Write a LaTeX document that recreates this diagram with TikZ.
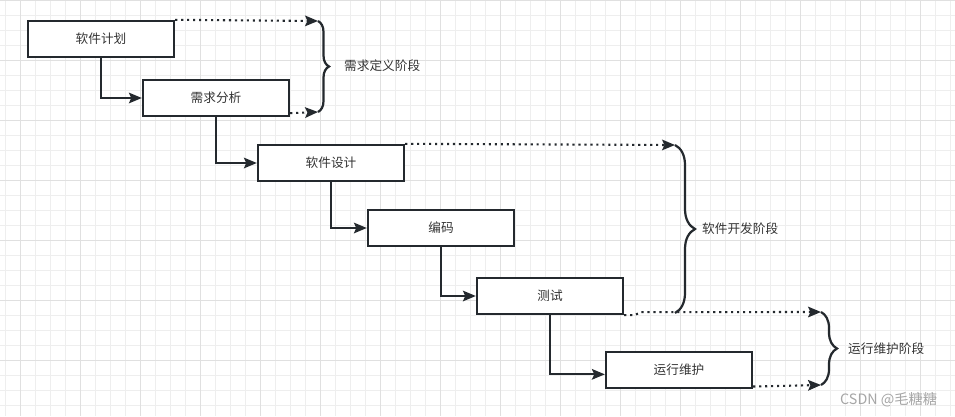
\documentclass[tikz,border=0pt]{standalone}
\usepackage{fontspec}
\setmainfont{Noto Sans CJK SC}
\usetikzlibrary{arrows.meta,decorations.pathreplacing}
\definecolor{ink}{RGB}{36,41,46}
\definecolor{txt}{RGB}{51,51,51}
\definecolor{gminor}{RGB}{238,238,238}
\definecolor{gmajor}{RGB}{224,224,224}

\begin{document}
\begin{tikzpicture}
[x=0.03cm,y=-0.03cm,
box/.style={draw=ink,line width=2pt,fill=white,minimum width=4.38cm,minimum height=1.08cm,inner sep=0pt,text=txt,font=\fontsize{10.8pt}{13pt}\selectfont},
flow/.style={draw=ink,line width=1.8pt,-{Stealth[length=11pt,width=9pt,inset=2pt]}},
dots/.style={flow,dash pattern=on 1.8pt off 3.3pt},
brc/.style={draw=ink,line width=1.9pt,decorate,decoration={brace,amplitude=#1}},
phase/.style={anchor=west,text=txt,inner sep=0pt,font=\fontsize{10.8pt}{13pt}\selectfont},
wmark/.style={anchor=west,text=black!35,inner sep=0pt,font=\fontsize{12.2pt}{14pt}\selectfont}]
\useasboundingbox (0,0) rectangle (955,416);
\fill[white] (0,0) rectangle (955,416);

% background grid
\foreach \i in {0,...,63} \draw[gminor,line width=0.6pt] (5.7+15*\i,0) -- (5.7+15*\i,416);
\foreach \j in {0,...,27} \draw[gminor,line width=0.6pt] (0,0.7+15*\j) -- (955,0.7+15*\j);
\foreach \i in {0,...,15} \draw[gmajor,line width=0.6pt] (20.7+60*\i,0) -- (20.7+60*\i,416);
\foreach \j in {0,...,6} \draw[gmajor,line width=0.6pt] (0,0.7+60*\j) -- (955,0.7+60*\j);

\node[box] (p1) at (101,39) {软件计划};
\node[box] (p2) at (216,98) {需求分析};
\node[box] (p3) at (331,163) {软件设计};
\node[box] (p4) at (441,228) {编码};
\node[box] (p5) at (550,296) {测试};
\node[box] (p6) at (679,370) {运行维护};

\coordinate (r1t) at (318,21);
\coordinate (r1b) at (318,112);
\coordinate (r2t) at (675,145);
\coordinate (r2b) at (675,313);
\coordinate (r3t) at (821,312);
\coordinate (r3b) at (821,385);

\node[phase] (s1) at (344,66) {需求定义阶段};
\node[phase] (s2) at (702,229) {软件开发阶段};
\node[phase] (s3) at (848,349) {运行维护阶段};
\node[wmark] (wm) at (840,400) {CSDN @毛糖糖};

\draw [flow] (p1.south) |- (p2.west);
\draw [flow] (p2.south) |- (p3.west);
\draw [flow] (p3.south) |- (p4.west);
\draw [flow] (p4.south) |- (p5.west);
\draw [flow] (p5.south) |- ([yshift=-0.13cm]p6.west);

\draw [dots] (p1.north east) -- (r1t);
\draw [dots] ([yshift=0.12cm]p2.south east) -- (r1b);
\draw [dots] (p3.north east) -- (r2t);
\draw [dots] (p5.south east) -- ++(10,0) -- ++(7,-3) -- (r3t);
\draw [dots] ([yshift=0.08cm]p6.south east) -- (r3b);

\draw [brc=0.33cm] (r1t) -- (r1b);
\draw [brc=0.6cm] (r2t) -- (r2b);
\draw [brc=0.48cm] (r3t) -- (r3b);
\end{tikzpicture}
\end{document}
